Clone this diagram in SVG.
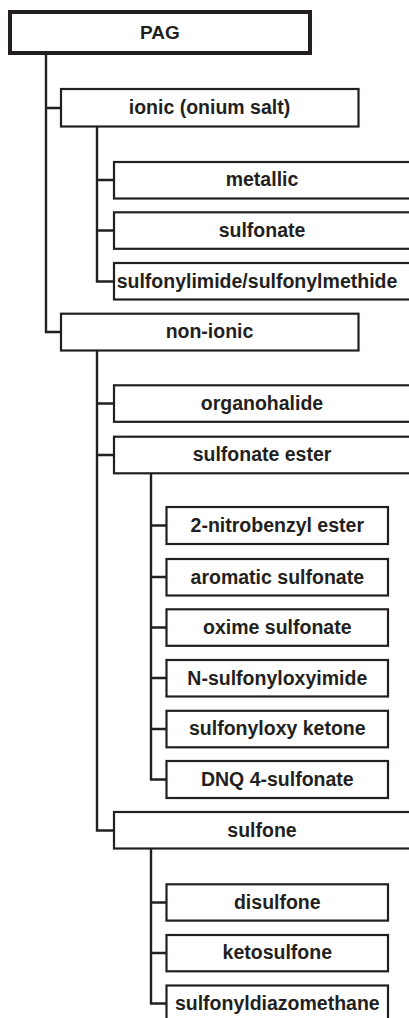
<svg xmlns="http://www.w3.org/2000/svg" width="409" height="1018" viewBox="0 0 409 1018">
<style>
.b{fill:#fff;stroke:#231f20;stroke-width:2.2}
.root{fill:#fff;stroke:#231f20;stroke-width:4}
.t{font-family:"Liberation Sans",Arial,sans-serif;font-weight:bold;font-size:19.5px;fill:#231f20;text-anchor:middle}
.c{fill:none;stroke:#231f20;stroke-width:2.4}
</style>
<rect width="409" height="1018" fill="#fff"/>
<g id="connectors">
<path class="c" d="M46 55V332H61M46 108H61"/>
<path class="c" d="M97 126.5V281.5H114M97 180H114M97 230.5H114"/>
<path class="c" d="M97 350.5V830.5H114M97 403.5H114M97 455H114"/>
<path class="c" d="M151 473.5V779.5H166.5M151 525.5H166.5M151 577H166.5M151 627.5H166.5M151 678H166.5M151 729H166.5"/>
<path class="c" d="M151 849V1003.5H166.5M151 902.5H166.5M151 953H166.5"/>
</g>
<g id="pag"><rect class="root" x="10" y="12" width="300" height="41"/><text class="t" x="160" y="39" style="font-size:19px">PAG</text></g>
<g id="ionic"><rect class="b" x="61" y="89" width="297.5" height="37.5"/><text class="t" x="209.5" y="114">ionic (onium salt)</text></g>
<g id="metallic"><rect class="b" x="114" y="162" width="300" height="36.5"/><text class="t" x="262" y="186.3">metallic</text></g>
<g id="sulfonate"><rect class="b" x="114" y="212.3" width="300" height="36.5"/><text class="t" x="262" y="236.8">sulfonate</text></g>
<g id="sulfonylimide"><rect class="b" x="114" y="263" width="300" height="36.5"/><text class="t" x="257" y="287.5">sulfonylimide/sulfonylmethide</text></g>
<g id="non-ionic"><rect class="b" x="61" y="313.7" width="297.5" height="36.8"/><text class="t" x="209.5" y="338.4">non-ionic</text></g>
<g id="organohalide"><rect class="b" x="114" y="385.3" width="300" height="36.5"/><text class="t" x="262" y="409.8">organohalide</text></g>
<g id="sulfonate-ester"><rect class="b" x="114" y="436.7" width="300" height="36.6"/><text class="t" x="262" y="461.2">sulfonate ester</text></g>
<g id="nitrobenzyl"><rect class="b" x="166.5" y="507" width="221.5" height="37"/><text class="t" x="277.3" y="531.8">2-nitrobenzyl ester</text></g>
<g id="aromatic-sulfonate"><rect class="b" x="166.5" y="559" width="221.5" height="36.5"/><text class="t" x="277.3" y="583.5">aromatic sulfonate</text></g>
<g id="oxime-sulfonate"><rect class="b" x="166.5" y="609.3" width="221.5" height="36.5"/><text class="t" x="277.3" y="633.8">oxime sulfonate</text></g>
<g id="n-sulfonyloxyimide"><rect class="b" x="166.5" y="660" width="221.5" height="36.5"/><text class="t" x="277.3" y="684.5">N-sulfonyloxyimide</text></g>
<g id="sulfonyloxy-ketone"><rect class="b" x="166.5" y="710.8" width="221.5" height="36.5"/><text class="t" x="277.3" y="735.3">sulfonyloxy ketone</text></g>
<g id="dnq"><rect class="b" x="166.5" y="761" width="221.5" height="37"/><text class="t" x="277.3" y="785.8">DNQ 4-sulfonate</text></g>
<g id="sulfone"><rect class="b" x="114" y="812" width="300" height="36.5"/><text class="t" x="262" y="836.5">sulfone</text></g>
<g id="disulfone"><rect class="b" x="166.5" y="884.3" width="221.5" height="36.3"/><text class="t" x="277.3" y="908.7">disulfone</text></g>
<g id="ketosulfone"><rect class="b" x="166.5" y="935" width="221.5" height="36.3"/><text class="t" x="277.3" y="959.4">ketosulfone</text></g>
<g id="sulfonyldiazomethane"><rect class="b" x="166.5" y="985.5" width="221.5" height="37"/><text class="t" x="277.3" y="1010">sulfonyldiazomethane</text></g>
</svg>
